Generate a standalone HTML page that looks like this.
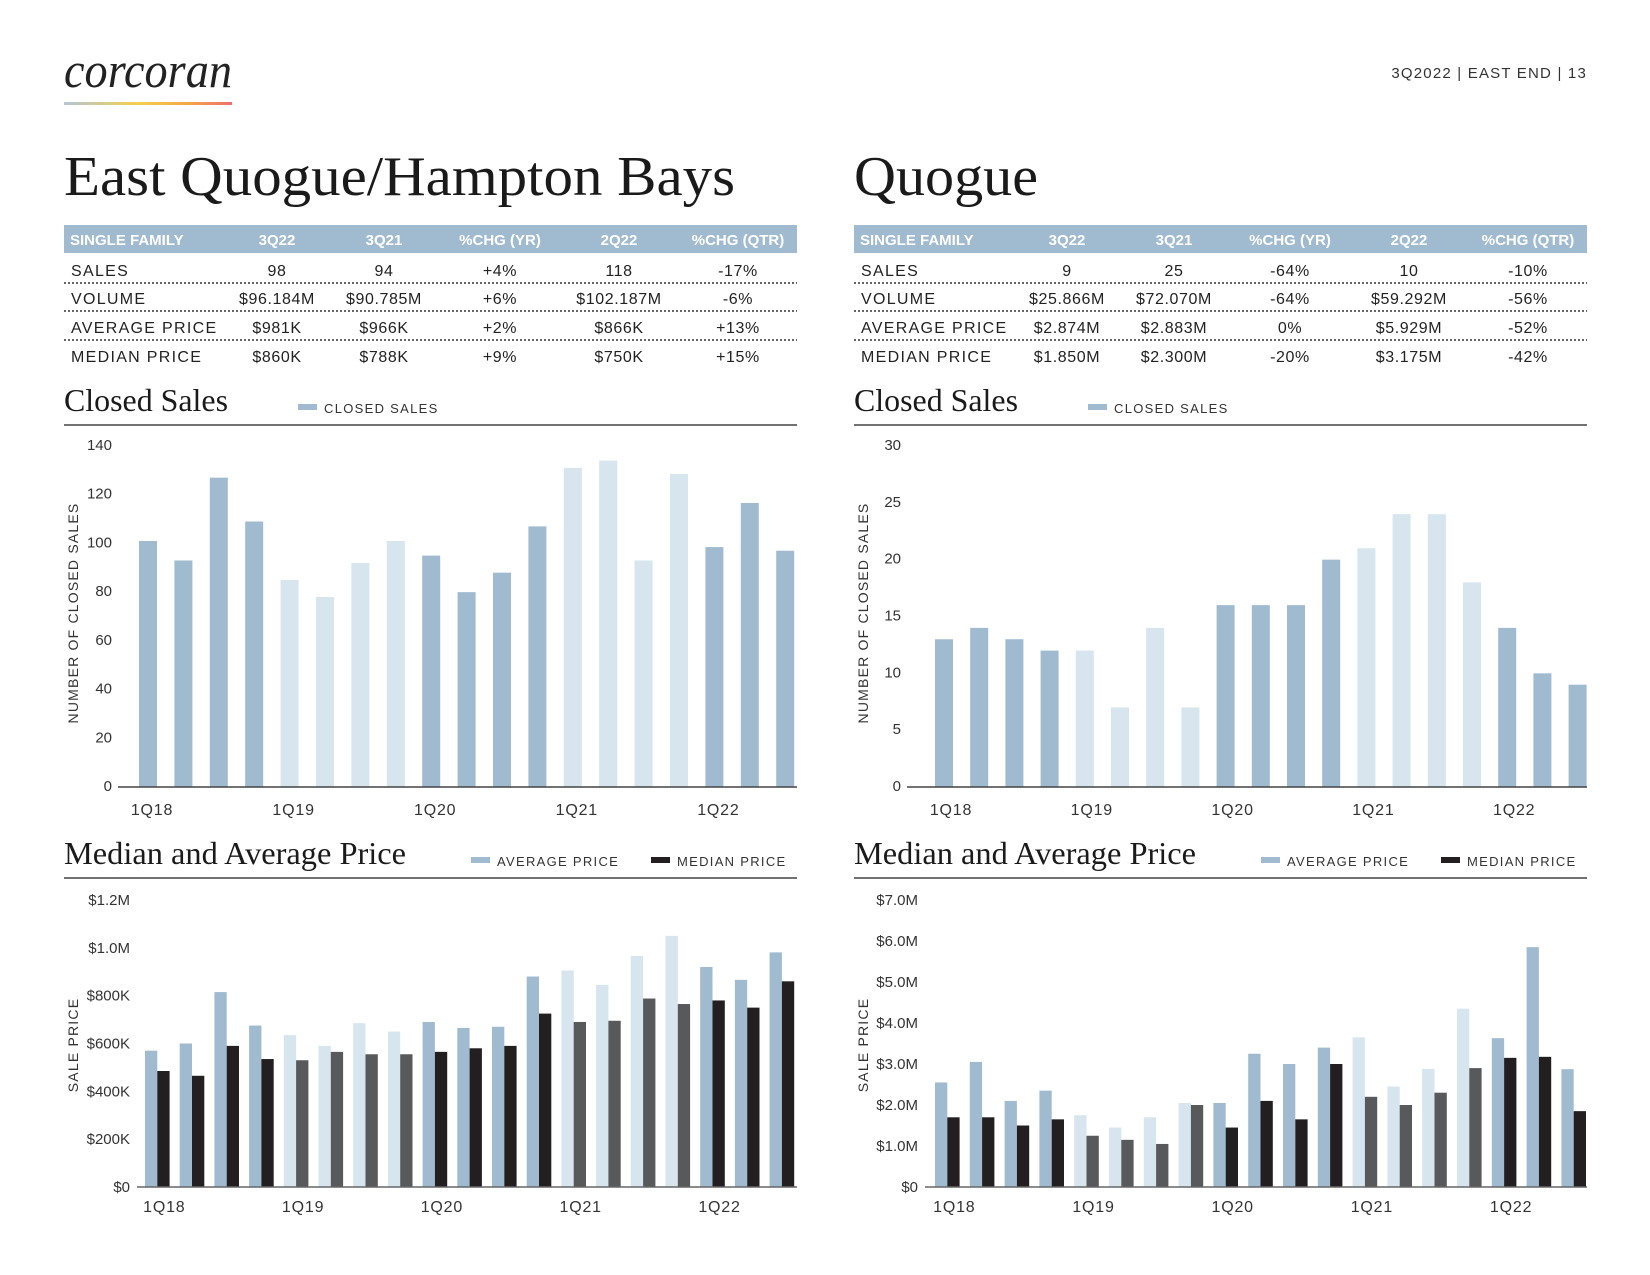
<!DOCTYPE html>
<html><head><meta charset="utf-8"><style>
html,body{margin:0;padding:0;background:#fff}
svg{display:block}
.sans{font-family:"Liberation Sans",sans-serif}
.serif{font-family:"Liberation Serif",serif}
</style></head><body>
<svg id="page" width="1650" height="1275" viewBox="0 0 1650 1275" xmlns="http://www.w3.org/2000/svg">
<defs>
<linearGradient id="lg" x1="0" x2="1" y1="0" y2="0">
<stop offset="0" stop-color="#b5c6d6"/><stop offset="0.45" stop-color="#f3d04a"/><stop offset="0.75" stop-color="#f4a54a"/><stop offset="1" stop-color="#ef6f6f"/>
</linearGradient>
</defs>
<text x="64" y="87" class="serif" font-style="italic" font-size="50" fill="#222" textLength="168" lengthAdjust="spacingAndGlyphs">corcoran</text>
<rect x="64" y="102" width="168" height="3" fill="url(#lg)"/>
<text x="1587" y="78" text-anchor="end" class="sans" font-size="15" letter-spacing="1.2" fill="#333">3Q2022  |  EAST END  |  13</text>

<text x="64" y="195" class="serif" font-size="56" fill="#1a1a1a" textLength="671" lengthAdjust="spacingAndGlyphs">East Quogue/Hampton Bays</text>
<text x="854" y="195" class="serif" font-size="56" fill="#1a1a1a" textLength="184" lengthAdjust="spacingAndGlyphs">Quogue</text>
<g id="tables"></g>
<g id="charts"></g>
</svg>
<script>
var NS='http://www.w3.org/2000/svg';
// ---- Data ----
var quarters=['1Q18','2Q18','3Q18','4Q18','1Q19','2Q19','3Q19','4Q19','1Q20','2Q20','3Q20','4Q20','1Q21','2Q21','3Q21','4Q21','1Q22','2Q22','3Q22'];
var xTickLabels=['1Q18','1Q19','1Q20','1Q21','1Q22'];
var eqSales=[101,93,127,109,85,78,92,101,95,80,88,107,131,134,93,128.5,98.5,116.6,97];
var eqAvg=[570,600,815,675,635,590,685,650,690,665,670,880,905,845,966,1050,920,866,981];
var eqMed=[485,465,590,535,530,565,555,555,565,580,590,725,690,695,788,765,780,750,860];
var qSales=[13,14,13,12,12,7,14,7,16,16,16,20,21,24,24,18,14,10,9];
var qAvg=[2.55,3.05,2.1,2.35,1.75,1.45,1.7,2.05,2.05,3.25,3.0,3.4,3.65,2.45,2.883,4.35,3.63,5.85,2.874];
var qMed=[1.7,1.7,1.5,1.65,1.25,1.15,1.05,2.0,1.45,2.1,1.65,3.0,2.2,2.0,2.3,2.9,3.15,3.175,1.85];
var eqSalesTicks=[0,20,40,60,80,100,120,140];
var qSalesTicks=[0,5,10,15,20,25,30];
var eqPriceTicks=[0,200,400,600,800,1000,1200];
var eqPriceTickLabels=['$0','$200K','$400K','$600K','$800K','$1.0M','$1.2M'];
var qPriceTicks=[0,1,2,3,4,5,6,7];
var qPriceTickLabels=['$0','$1.0M','$2.0M','$3.0M','$4.0M','$5.0M','$6.0M','$7.0M'];
var tableHead=['SINGLE FAMILY','3Q22','3Q21','%CHG (YR)','2Q22','%CHG (QTR)'];
var eqTable=[['SALES','98','94','+4%','118','-17%'],['VOLUME','$96.184M','$90.785M','+6%','$102.187M','-6%'],['AVERAGE PRICE','$981K','$966K','+2%','$866K','+13%'],['MEDIAN PRICE','$860K','$788K','+9%','$750K','+15%']];
var qTable=[['SALES','9','25','-64%','10','-10%'],['VOLUME','$25.866M','$72.070M','-64%','$59.292M','-56%'],['AVERAGE PRICE','$2.874M','$2.883M','0%','$5.929M','-52%'],['MEDIAN PRICE','$1.850M','$2.300M','-20%','$3.175M','-42%']];

var DARK='#a0bbd0',LIGHT='#d6e5ee',BLK='#231f20',GRY='#58595b';
function isLight(i){var y=Math.floor(i/4);return y===1||y===3;}
function mk(tag,attrs,parent,txt){var e=document.createElementNS(NS,tag);for(var k in attrs)e.setAttribute(k,attrs[k]);if(txt!==undefined)e.textContent=txt;parent.appendChild(e);return e;}

// ---- Tables ----
var tg=document.getElementById('tables');
function drawTable(rows,ox,nm){
  var g=mk('g',{},tg);
  
  
  var cx=[0,213,320,436,555,674];
  var hb=mk('rect',{x:ox,y:225,width:733,height:28,fill:DARK},g);
  
  
  tableHead.forEach(function(h,j){
    var t=mk('text',{x:j===0?ox+6:ox+cx[j],y:245,'text-anchor':j===0?'start':'middle','class':'sans','font-size':'15','font-weight':'bold',fill:'#fff'},g,h);
    
    
  });
  var ys=[270,298,327,356];
  rows.forEach(function(r,i){
    r.forEach(function(c,j){
      var t=mk('text',{x:j===0?ox+7:ox+cx[j],y:ys[i]+6,'text-anchor':j===0?'start':'middle','class':'sans','font-size':'16','letter-spacing':j===0?'1.3':'0.6',fill:'#222'},g,c);
      
      
    });
    if(i<3){
      var l=mk('line',{x1:ox,x2:ox+733,y1:ys[i]+13,y2:ys[i]+13,stroke:'#333','stroke-width':'1.5','stroke-dasharray':'2,2'},g);
      
      
    }
  });
}
drawTable(eqTable,64,'east-quogue-table');
drawTable(qTable,854,'quogue-table');

// ---- Charts ----
var cg=document.getElementById('charts');
function header(title,ox,lineY,titleW,legends,nm){
  var g=mk('g',{},cg);
  
  
  var t=mk('text',{x:ox,y:lineY-14,'class':'serif','font-size':'32',fill:'#1a1a1a',textLength:titleW,lengthAdjust:'spacingAndGlyphs'},g,title);
  
  
  var l=mk('line',{x1:ox,x2:ox+733,y1:lineY,y2:lineY,stroke:'#444','stroke-width':'1.5'},g);
  
  
  legends.forEach(function(lg){
    var s=mk('rect',{x:ox+lg[0],y:lineY-21,width:19,height:6,fill:lg[2]},g);
    
    
    var tx=mk('text',{x:ox+lg[0]+26,y:lineY-12,'class':'sans','font-size':'13','letter-spacing':'1.3',fill:'#333'},g,lg[1]);
    
    
  });
}
function salesChart(vals,ticks,max,ox,axisX0,firstX,step,lblOff,nm){
  var g=mk('g',{},cg);
  
  
  var base=787,top=446;
  function y(v){return base-(v/max)*(base-top);}
  function x(i){return firstX+i*step;}
  vals.forEach(function(v,i){
    var r=mk('rect',{x:x(i),y:y(v),width:18,height:base-y(v),fill:isLight(i)?LIGHT:DARK},g);
    
    
  });
  var a=mk('line',{x1:axisX0,x2:ox+733,y1:base,y2:base,stroke:'#444','stroke-width':'1.5'},g);
  
  
  ticks.forEach(function(t){
    var e=mk('text',{x:axisX0-6,y:y(t)+4,'text-anchor':'end','class':'sans','font-size':'15',fill:'#333'},g,String(t));
    
    
  });
  xTickLabels.forEach(function(q){
    var i=quarters.indexOf(q);
    var e=mk('text',{x:x(i)+9+lblOff,y:815,'text-anchor':'middle','class':'sans','font-size':'16','letter-spacing':'0.8',fill:'#333'},g,q);
    
    
  });
  var yt=mk('text',{x:0,y:0,transform:'translate('+(ox+14)+',613) rotate(-90)','text-anchor':'middle','class':'sans','font-size':'14','letter-spacing':'1.2',fill:'#333'},g,'NUMBER OF CLOSED SALES');
  
  
}
function priceChart(avg,med,ticks,tickLbl,max,ox,axisX0,firstX,step,nm){
  var g=mk('g',{},cg);
  
  
  var base=1187,top=900;
  function y(v){return base-(v/max)*(base-top);}
  function x(i){return firstX+i*step;}
  avg.forEach(function(v,i){
    var r=mk('rect',{x:x(i),y:y(v),width:12.3,height:base-y(v),fill:isLight(i)?LIGHT:DARK},g);
    
    
    var m=mk('rect',{x:x(i)+12.3,y:y(med[i]),width:12.3,height:base-y(med[i]),fill:isLight(i)?GRY:BLK},g);
    
    
  });
  var a=mk('line',{x1:axisX0,x2:ox+733,y1:base,y2:base,stroke:'#666','stroke-width':'1.5'},g);
  
  
  ticks.forEach(function(t,k){
    var e=mk('text',{x:axisX0-7,y:y(t)+5,'text-anchor':'end','class':'sans','font-size':'15',fill:'#333'},g,tickLbl[k]);
    
    
  });
  xTickLabels.forEach(function(q){
    var i=quarters.indexOf(q);
    var e=mk('text',{x:x(i)+12.3+7,y:1212,'text-anchor':'middle','class':'sans','font-size':'16','letter-spacing':'0.8',fill:'#333'},g,q);
    
    
  });
  var yt=mk('text',{x:0,y:0,transform:'translate('+(ox+14)+',1045) rotate(-90)','text-anchor':'middle','class':'sans','font-size':'14','letter-spacing':'1.2',fill:'#333'},g,'SALE PRICE');
  
  
}
header('Closed Sales',64,425,164,[[234,'CLOSED SALES',DARK]],'eq-closed-sales-header');
header('Closed Sales',854,425,164,[[234,'CLOSED SALES',DARK]],'q-closed-sales-header');
header('Median and Average Price',64,878,342,[[407,'AVERAGE PRICE',DARK],[587,'MEDIAN PRICE',BLK]],'eq-price-header');
header('Median and Average Price',854,878,342,[[407,'AVERAGE PRICE',DARK],[587,'MEDIAN PRICE',BLK]],'q-price-header');
salesChart(eqSales,eqSalesTicks,140,64,118,139,35.4,4,'eq-closed-sales-chart');
salesChart(qSales,qSalesTicks,30,854,907,935,35.2,7,'q-closed-sales-chart');
priceChart(eqAvg,eqMed,eqPriceTicks,eqPriceTickLabels,1200,64,137,145,34.7,'eq-price-chart');
priceChart(qAvg,qMed,qPriceTicks,qPriceTickLabels,7,854,925,935,34.8,'q-price-chart');
</script>
</body></html>
